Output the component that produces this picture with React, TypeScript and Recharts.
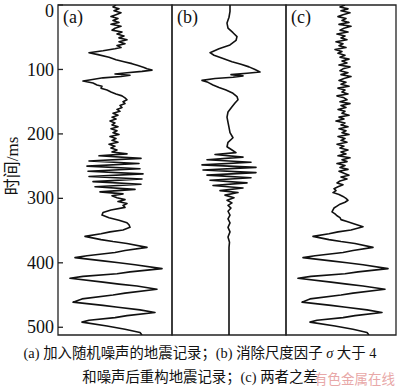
import { LineChart, Line, XAxis, YAxis, ReferenceArea } from "recharts";

const timeTicks = [0, 100, 200, 300, 400, 500];
const timeDomain = [0, 512];

// (a) record with random noise: time (ms) / amplitude
const timeA = [
  0, 3, 6, 9, 12, 15, 18, 21, 24, 27, 30, 33, 36, 39, 42, 45, 48, 51, 54, 57, 60, 63, 66, 68,
  71, 74, 77, 81, 85, 88, 91, 94, 97, 99, 101, 103, 105, 107, 109, 111, 113, 116, 118, 121,
  124, 126, 129, 132, 135, 138, 141, 144, 147, 150, 153, 156, 159, 162, 165, 168, 171, 174,
  177, 180, 183, 186, 189, 192, 195, 198, 201, 204, 207, 210, 213, 216, 219, 222, 225, 228,
  231, 234, 238, 242, 246, 250, 254, 258, 262, 266, 270, 274, 278, 282, 286, 290, 293, 296,
  299, 302, 305, 308, 311, 314, 318, 322, 326, 330, 334, 338, 341, 345, 349, 352, 355, 359,
  364, 367, 370, 376, 381, 384, 389, 392, 397, 400, 403, 409, 414, 417, 421, 424, 430, 433,
  436, 441, 447, 450, 456, 461, 466, 469, 473, 477, 482, 485, 489, 492, 498, 503, 508, 512,
];
const ampA = [
  1, -2, 4, -1, 6, 1, -4, 3, -2, 4, -4, 6, 0, -3, 7, 2, 9, 4, 12, 4, 10, 2, 6, 0,
  -12, -26, -17, -6, 1, 9, 17, 23, 29, 32, 37, 27, 12, 0, 15, 6, -12, -24, -32, -22,
  -18, -13, -14, -8, -4, 1, 7, 10, 12, 8, 10, 5, 7, 2, 5, -2, 3, -3,
  1, -5, 0, -3, 3, -4, 2, -2, 4, -5, 1, -3, 3, -6, 0, -4, 2, -3,
  12, -16, 26, -26, 24, -28, 25, -27, 28, -26, 27, -22, 26, -20, 20, -15, 8, -3,
  2, 10, 3, 12, 8, 10, -4, -12, -13, -6, 4, 12, 14, 15, 8, -5, -14, -30,
  -14, -2, 12, 32, 10, 0, -28, -40, -12, 4, 20, 47, 15, 2, -32, -45, -12, 4,
  22, 42, 10, -2, -33, -42, -12, 3, 25, 40, 12, 0, -26, -33, -8, 10, 25, 27,
];

// (b) reconstructed record
const timeB = [
  0, 10, 19, 28, 36, 43, 49, 55, 62, 68, 74, 78, 82, 88, 92, 96, 100, 104, 106, 108, 110, 112,
  114, 117, 120, 124, 128, 132, 137, 142, 147, 152, 158, 166, 174, 182, 190, 198, 206, 213,
  220, 225, 229, 232, 236, 240, 244, 248, 252, 256, 260, 264, 268, 272, 276, 280, 284, 288,
  291, 295, 299, 303, 307, 311, 315, 320, 326, 332, 338, 345, 352, 360, 368, 376, 512,
];
const ampB = [
  1, 1, 0, -2, -1, 4, 8, 7, 1, -10, -19, -15, -8, 3, 12, 20, 26, 31, 18, 2, 14, 4,
  -14, -27, -21, -16, -10, -3, 4, 8, 9, 6, 3, -1, -2, -1, 0, 1, 4, -1,
  -2, 3, 7, -14, 14, -22, 22, -27, 27, -26, 27, -22, 22, -19, 18, -16, 14, -9,
  9, -4, 5, -2, 3, -1, 2, -1, 1, -1, 1, -1, 1, -1, 0.5, 0, 0,
];

// (c) difference of the two
const timeC = [
  0, 3, 6, 9, 12, 15, 18, 21, 24, 27, 30, 33, 36, 39, 42, 45, 48, 51, 54, 57, 60, 63, 66, 69,
  72, 75, 78, 81, 84, 87, 90, 93, 96, 99, 102, 105, 108, 111, 114, 117, 120, 123, 126, 129,
  132, 135, 138, 141, 144, 147, 150, 153, 156, 159, 162, 165, 168, 171, 174, 177, 180, 183,
  186, 189, 192, 195, 198, 201, 204, 207, 210, 213, 216, 219, 222, 225, 228, 231, 234, 237,
  240, 243, 246, 249, 252, 255, 258, 261, 264, 267, 270, 273, 276, 279, 282, 285, 288, 291,
  294, 297, 300, 303, 306, 309, 312, 315, 318, 321, 324, 327, 330, 333, 336, 339, 344, 349,
  352, 355, 359, 364, 367, 370, 376, 381, 384, 389, 392, 397, 400, 403, 409, 414, 417, 421,
  424, 430, 433, 436, 441, 447, 450, 456, 461, 466, 469, 473, 477, 482, 485, 489, 492, 498,
  503, 508, 512,
];
const ampC = [
  2, -3, 5, -2, 7, 0, -5, 3, -1, 6, -4, 8, 1, -3, 5, -6, 2, -2, 4, -7, 0, -4, 3, -8,
  -1, -5, 2, -3, 6, -1, 4, -4, 7, 0, -3, 5, -2, 8, 1, -4, 3, -2, 6, -5,
  2, -1, 5, -6, 1, 4, -3, 7, -2, 3, -5, 2, -1, 6, -4, 1, -7, 2,
  -2, 5, -4, 3, -1, 6, -5, 2, -2, 4, -6, 1, -3, 5, -2, 3, -5, 7,
  -1, 4, -6, 2, -3, 5, -4, 1, 6, -2, 4, -3, -6, 0, -5, -9, -7, -10,
  -4, 0, 3, 5, 2, -3, -6, -9, -10, -11, -8, -6, -3, -2, 4, 10, 20, 8,
  -5, -14, -30, -14, -2, 12, 30, 10, 0, -28, -40, -12, 4, 20, 45, 15, 2, -32,
  -45, -12, 4, 20, 42, 10, -2, -33, -41, -12, 3, 24, 39, 12, 0, -26, -33, -8,
  10, 24, 26,
];

const rowsOf = (times: number[], amps: number[]) => times.map((t, i) => ({ t, v: amps[i] }));

const serif = "'Liberation Serif', 'Noto Sans CJK SC', serif";

function TimeTick(props: any) {
  const { x, y, payload } = props;
  // the top label would be clipped by the page edge, so nudge it down a little
  const dy = payload.value === 0 ? "0.64em" : "0.34em";
  return (
    <g>
      <line x1={x + 4} x2={x + 9} y1={y} y2={y} stroke="#222" strokeWidth={1.3} />
      <text x={x} y={y} dy={dy} textAnchor="end" fontSize={18} fontFamily={serif} fill="#111">
        {payload.value}
      </text>
    </g>
  );
}

interface PanelProps {
  rows: { t: number; v: number }[];
  label: string;
  left: number;
  width: number;
  margin: { left: number; right: number };
  amp: [number, number];
  withAxis?: boolean;
}

function Panel({ rows, label, left, width, margin, amp, withAxis }: PanelProps) {
  return (
    <div style={{ position: "absolute", left, top: 0 }}>
      <LineChart
        layout="vertical"
        width={width}
        height={340}
        data={rows}
        margin={{ top: 5, bottom: 5, left: margin.left, right: margin.right }}
        style={{ overflow: "visible" }}
      >
        <XAxis type="number" domain={amp} allowDataOverflow hide />
        <YAxis
          type="number"
          dataKey="t"
          domain={timeDomain}
          allowDataOverflow
          ticks={timeTicks}
          hide={!withAxis}
          width={58}
          axisLine={false}
          tickLine={false}
          tickSize={0}
          tickMargin={4}
          tick={<TimeTick />}
          interval={0}
        />
        <ReferenceArea
          x1={amp[0]}
          x2={amp[1]}
          y1={timeDomain[0]}
          y2={timeDomain[1]}
          fill="none"
          stroke="#222"
          strokeWidth={1.3}
          fillOpacity={0}
          ifOverflow="visible"
          label={{ value: label, position: "insideTopLeft", offset: 5, fontSize: 18, fontFamily: serif, fill: "#111" }}
        />
        <Line
          dataKey="v"
          type="linear"
          stroke="#111"
          strokeWidth={1.6}
          strokeLinejoin="round"
          dot={false}
          isAnimationActive={false}
        />
      </LineChart>
    </div>
  );
}

export default function App() {
  return (
    <div style={{ position: "absolute", left: 0, top: 0, width: 400, height: 388, background: "#fff", fontFamily: serif, color: "#111" }}>
      <Panel rows={rowsOf(timeA, ampA)} label="(a)" left={0} width={174} margin={{ left: 0, right: 2 }} amp={[-57, 57]} withAxis />
      <Panel rows={rowsOf(timeB, ampB)} label="(b)" left={167} width={124} margin={{ left: 5, right: 5 }} amp={[-57, 57]} />
      <Panel rows={rowsOf(timeC, ampC)} label="(c)" left={281} width={119} margin={{ left: 5, right: 4 }} amp={[-57, 53]} />
      <div
        style={{
          position: "absolute",
          left: 10,
          top: 166,
          transform: "translate(-50%, -50%) rotate(-90deg)",
          fontSize: 17,
          whiteSpace: "nowrap",
        }}
      >
        时间/ms
      </div>
      <div style={{ position: "absolute", left: 0, width: 400, top: 341, textAlign: "center", fontSize: 14.4, whiteSpace: "nowrap" }}>
        (a) 加入随机噪声的地震记录；(b) 消除尺度因子 <i>σ</i> 大于 4
      </div>
      <div style={{ position: "absolute", left: 0, width: 400, top: 365, textAlign: "center", fontSize: 14.4, whiteSpace: "nowrap" }}>
        和噪声后重构地震记录；(c) 两者之差
      </div>
      <div style={{ position: "absolute", left: 314, top: 368, fontSize: 13.5, color: "#e8a8a8", whiteSpace: "nowrap", fontFamily: "'Noto Sans CJK SC', sans-serif" }}>
        有色金属在线
      </div>
    </div>
  );
}
